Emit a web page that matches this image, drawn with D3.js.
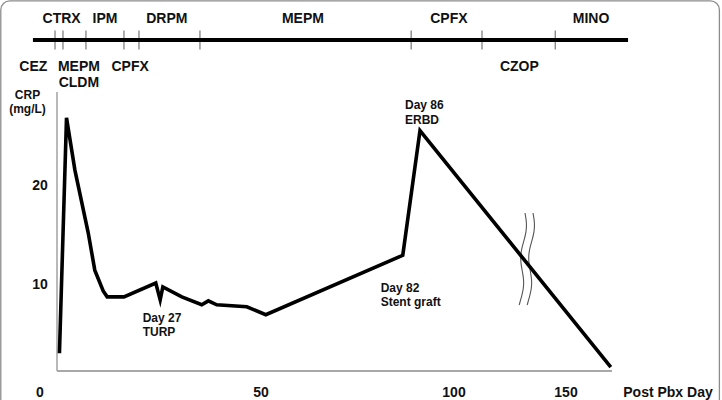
<!DOCTYPE html>
<html>
<head>
<meta charset="utf-8">
<script src="https://cdn.jsdelivr.net/npm/d3@7"></script>
<style>
  html, body { margin: 0; padding: 0; background: #fff; }
  svg { display: block; }
  text { font-family: "Liberation Sans", Arial, sans-serif; font-weight: bold; fill: #111; }
</style>
</head>
<body>
<svg id="chart" width="722" height="400"></svg>
<script>
// ---- data ----
const days = [4.4, 6.0, 7.9, 10.9, 12.4, 14.3, 15.2, 19.0, 26.2, 27.2, 27.8, 32.1, 36.6, 38.1, 40.0, 46.8, 51.1, 82.1, 86.0, 170];
const crp  = [3.0, 26.8, 21.5, 15.2, 11.4, 9.3, 8.7, 8.7, 10.1, 8.4, 9.7, 8.7, 7.9, 8.3, 7.9, 7.7, 6.9, 12.9, 25.5, 1.6];

const xTickValues = [0, 50, 100, 150];
const yTickValues = [10, 20];

// antibiotic timeline
const timelineExtent = [-1.6, 177.7];
const timelineTickDays = [3.4, 5.2, 10.4, 19.0, 22.4, 36.2, 84.0, 112.5, 145.2];
const topDrugs = ["CTRX", "IPM", "DRPM", "MEPM", "CPFX", "MINO"];
const topDrugDays = [4.9, 14.7, 28.7, 59.5, 97.9, 161.2];
const bottomDrugs = [["CEZ"], ["MEPM", "CLDM"], ["CPFX"], ["CZOP"]];
const bottomDrugDays = [-1.5, 8.8, 20.4, 129.2];

// events
const eventDays = [27, 82, 86];
const eventLabels = [["Day 27", "TURP"], ["Day 82", "Stent graft"], ["Day 86", "ERBD"]];
const breakDay = 132.5;

// ---- layout ----
const svg = d3.select("#chart");
const plot = { left: 57, right: 612, top: 92, bottom: 371 };

// broken (piecewise) time axis
const x = d3.scaleLinear().domain([0, 86, 100, 150]).range([40, 420, 454, 566]);
const y = d3.scaleLinear().domain([0, 20]).range([383, 185]);

// outer frame
svg.append("rect")
  .attr("x", 0.8).attr("y", 0.8).attr("width", 718.6).attr("height", 440)
  .attr("rx", 9).attr("fill", "none").attr("stroke", "#8c8c8c").attr("stroke-width", 1.3);

// ---- timeline ----
const tl = svg.append("g");
tl.selectAll("line.tick").data(timelineTickDays).join("line")
  .attr("class", "tick")
  .attr("x1", d => x(d)).attr("x2", d => x(d))
  .attr("y1", 30.5).attr("y2", 49.5)
  .attr("stroke", "#777").attr("stroke-width", 1.2);
tl.append("line")
  .attr("x1", x(timelineExtent[0])).attr("x2", x(timelineExtent[1]))
  .attr("y1", 40).attr("y2", 40)
  .attr("stroke", "#000").attr("stroke-width", 4);

tl.selectAll("text.top").data(topDrugs).join("text")
  .attr("class", "top")
  .attr("x", (d, i) => x(topDrugDays[i])).attr("y", 23.3)
  .attr("text-anchor", "middle").attr("font-size", 14)
  .text(d => d);

const bl = tl.selectAll("text.bot").data(bottomDrugs).join("text")
  .attr("class", "bot")
  .attr("x", (d, i) => x(bottomDrugDays[i])).attr("y", 70.7)
  .attr("text-anchor", "middle").attr("font-size", 14);
bl.selectAll("tspan").data(d => d).join("tspan")
  .attr("x", function () { return d3.select(this.parentNode).attr("x"); })
  .attr("dy", (d, i) => i === 0 ? 0 : 16.6)
  .text(d => d);

// ---- axes frame ----
svg.append("line")
  .attr("x1", plot.left).attr("x2", plot.left).attr("y1", plot.top).attr("y2", plot.bottom)
  .attr("stroke", "#a8a8a8").attr("stroke-width", 1.6);
svg.append("line")
  .attr("x1", plot.left).attr("x2", plot.right).attr("y1", plot.bottom).attr("y2", plot.bottom)
  .attr("stroke", "#a8a8a8").attr("stroke-width", 2);

// y tick labels
svg.selectAll("text.ytick").data(yTickValues).join("text")
  .attr("class", "ytick")
  .attr("x", 40).attr("y", d => y(d)).attr("dy", "0.36em")
  .attr("text-anchor", "middle").attr("font-size", 14)
  .text(d => d);

// x tick labels
svg.selectAll("text.xtick").data(xTickValues).join("text")
  .attr("class", "xtick")
  .attr("x", d => x(d)).attr("y", 396.7)
  .attr("text-anchor", "middle").attr("font-size", 14)
  .text(d => d);

svg.append("text").attr("x", 668).attr("y", 396.7)
  .attr("text-anchor", "middle").attr("font-size", 14).text("Post Pbx Day");

const yt = svg.append("text").attr("x", 27.5).attr("y", 99.3)
  .attr("text-anchor", "middle").attr("font-size", 12);
yt.append("tspan").attr("x", 27.5).text("CRP");
yt.append("tspan").attr("x", 27.5).attr("dy", 14).text("(mg/L)");

// ---- axis break marks ----
const bx = x(breakDay);
const wave = d3.range(0, 1.0001, 0.05);
[-4, 4].forEach(off => {
  const line = d3.line()
    .x(t => bx + off + 2.2 - 4.5 * t + 2.2 * Math.sin(t * Math.PI * 3.2))
    .y(t => 213 + 92 * t)
    .curve(d3.curveBasis);
  svg.append("path").attr("d", line(wave))
    .attr("fill", "none").attr("stroke", "#555").attr("stroke-width", 1.1);
});

// ---- CRP line ----
const pts = days.map((d, i) => [d, crp[i]]);
svg.append("path")
  .attr("d", d3.line().x(d => x(d[0])).y(d => y(d[1]))(pts))
  .attr("fill", "none").attr("stroke", "#000").attr("stroke-width", 3.6)
  .attr("stroke-linejoin", "miter").attr("stroke-miterlimit", 6);

// ---- event annotations ----
const evOffsets = [[-16.6, 321.7], [-21.7, 291.7], [-15, 109]];
eventDays.forEach((d, i) => {
  const t = svg.append("text")
    .attr("x", x(d) + evOffsets[i][0]).attr("y", evOffsets[i][1])
    .attr("font-size", 12);
  eventLabels[i].forEach((s, j) => {
    t.append("tspan").attr("x", x(d) + evOffsets[i][0]).attr("dy", j === 0 ? 0 : 14.6).text(s);
  });
});
</script>
</body>
</html>
